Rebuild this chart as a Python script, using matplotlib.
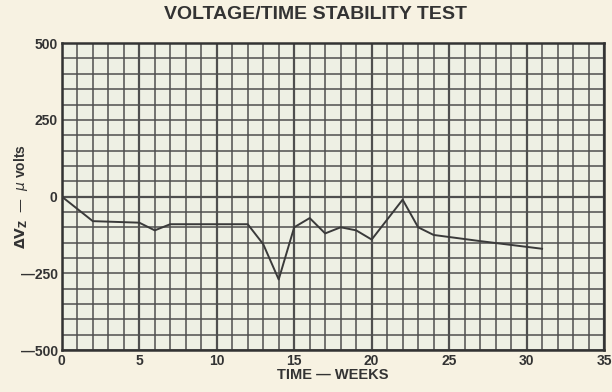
import matplotlib
matplotlib.use('Agg')
import matplotlib.pyplot as plt
import numpy as np

# weeks vs. change in zener voltage (microvolts)
weeks = [0, 2, 5, 6, 7, 12, 13, 14, 15, 16, 17, 18, 19, 20, 22, 23, 24, 27, 31]
delta_v = [0, -80, -85, -110, -90, -90, -155, -270, -100, -70, -120, -100,
           -110, -140, -10, -100, -125, -145, -170]

x_ticks = [0, 5, 10, 15, 20, 25, 30, 35]
y_ticks = [-500, -250, 0, 250, 500]
y_labels = ['\u2014500', '\u2014250', '0', '250', '500']

paper = '#f7f2e2'
cell = '#eef0e4'
grid_col = '#4f4f4f'
ink = '#333333'
font = 'Liberation Sans'

fig = plt.figure(figsize=(6.12, 3.92), dpi=100, facecolor=paper)
ax = fig.add_axes([0.101, 0.107, 0.886, 0.783], facecolor=cell)

ax.set_xlim(0, 35)
ax.set_ylim(-500, 500)

# graph paper: light lines every week / 50 uV, heavier every 5 weeks and at zero
for xv in np.arange(0, 36, 1):
    lw = 1.6 if xv % 5 == 0 else 1.1
    ax.axvline(xv, color=grid_col, lw=lw, zorder=1)
for yv in np.arange(-500, 501, 50):
    lw = 1.6 if yv == 0 else 1.1
    ax.axhline(yv, color=grid_col, lw=lw, zorder=1)

ax.plot(weeks, delta_v, color='#3a3a3a', lw=1.4, zorder=3)

for s in ax.spines.values():
    s.set_color(ink)
    s.set_linewidth(1.8)

ax.set_xticks(x_ticks)
ax.set_yticks(y_ticks)
ax.set_yticklabels(y_labels)
ax.tick_params(length=0, pad=3, labelcolor=ink)
for lab in ax.get_xticklabels() + ax.get_yticklabels():
    lab.set_fontweight('bold')
    lab.set_fontsize(10)
    lab.set_family(font)

ax.set_xlabel('TIME \u2014 WEEKS', fontsize=10.5, fontweight='bold',
              family=font, color=ink, labelpad=0)
ax.set_ylabel('$\\mathbf{\\Delta V_Z}$  \u2014  $\\mu$ volts', fontsize=10, fontweight='bold',
              family=font, color=ink)
ax.yaxis.set_label_coords(-0.058, 0.5)
fig.text(0.515, 0.963, 'VOLTAGE/TIME STABILITY TEST', ha='center', va='center',
         fontsize=14, fontweight='bold', family=font, color=ink)

fig.savefig('out.png', dpi=100, facecolor=paper)
